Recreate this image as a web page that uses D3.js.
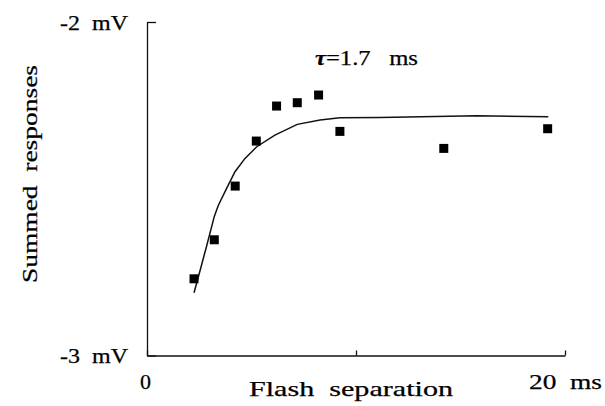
<!DOCTYPE html>
<html>
<head>
<meta charset="utf-8">
<script src="https://cdn.jsdelivr.net/npm/d3@7"></script>
<style>
  body { margin: 0; background: #fff; }
  text { font-family: "Liberation Serif", "Times New Roman", serif; fill: #000; stroke: #000; stroke-width: 0.25px; }
</style>
</head>
<body>
<div id="chart"><svg></svg></div>
<script>
var width = 605;
var height = 406;

// flash separation (ms) and summed response (mV) for the squares
var separation = [2.25, 3.22, 4.22, 5.23, 6.2, 7.19, 8.21, 9.23, 14.2, 19.17];
var summed = [-2.770, -2.653, -2.492, -2.357, -2.252, -2.242, -2.219, -2.328, -2.379, -2.320];

// fitted exponential curve
var fitX = [2.25, 2.54, 2.86, 3.22, 3.41, 3.81, 4.21, 4.69, 5.25, 6.12, 7.19, 8.28, 9.23, 11.15, 15.78, 19.2];
var fitY = [-2.812, -2.745, -2.670, -2.583, -2.550, -2.499, -2.449, -2.409, -2.374, -2.339, -2.307, -2.294, -2.287, -2.286, -2.281, -2.284];

var xTicks = [0, 10, 20];
var xTickLabels = ["0", "", "20\u00a0\u00a0ms"];
var yTicks = [-3, -2];
var yTickLabels = ["-3\u00a0\u00a0mV", "-2\u00a0\u00a0mV"];

var xscale = d3.scaleLinear()
                .domain([0, 20])
                .range([147, 565]);
var yscale = d3.scaleLinear()
                .domain([-3, -2])
                .range([355.5, 22]);

var svg = d3.select("#chart").select("svg")
               .attr("width", width)
               .attr("height", height);

var xaxis = d3.axisBottom(xscale)
                .tickValues(xTicks)
                .tickSizeInner(-5)
                .tickSizeOuter(0)
                .tickPadding(0)
                .tickFormat(function(d, i){ return xTickLabels[i]; });
var yaxis = d3.axisLeft(yscale)
                .tickValues(yTicks)
                .tickSizeInner(-9)
                .tickSizeOuter(0)
                .tickPadding(0)
                .tickFormat(function(d, i){ return yTickLabels[i]; });

var gx = svg.append("g")
     .attr("transform", "translate(0," + yscale(-3) + ")")
     .call(xaxis);
var gy = svg.append("g")
     .attr("transform", "translate(" + xscale(0) + ",0)")
     .call(yaxis);

svg.selectAll(".domain, .tick line")
     .attr("stroke", "#111")
     .attr("stroke-width", 1.3);

gx.selectAll("text")
     .attr("font-size", 22)
     .attr("font-family", null)
     .attr("fill", null)
     .attr("y", 33)
     .attr("dy", 0)
     .attr("x", function(d){ return d === 0 ? -2 : 0; })
     .each(function(d){ if (d === 20) d3.select(this).attr("textLength", 73).attr("lengthAdjust", "spacingAndGlyphs"); });

gy.selectAll("text")
     .attr("font-size", 22)
     .attr("font-family", null)
     .attr("fill", null)
     .attr("x", -19)
     .attr("dy", 7)
     .attr("textLength", 68)
     .attr("lengthAdjust", "spacingAndGlyphs");

// fitted curve
var line = d3.line()
               .x(function(d){ return xscale(d[0]); })
               .y(function(d){ return yscale(d[1]); });
svg.append("path")
     .datum(d3.zip(fitX, fitY))
     .attr("d", line)
     .attr("fill", "none")
     .attr("stroke", "#111")
     .attr("stroke-width", 1.5);

// squares
var side = 9;
svg.selectAll("rect.pt")
     .data(d3.zip(separation, summed))
     .enter().append("rect")
     .attr("class", "pt")
     .attr("width", side)
     .attr("height", side)
     .attr("x", function(d){ return xscale(d[0]) - side / 2; })
     .attr("y", function(d){ return yscale(d[1]) - side / 2; })
     .attr("fill", "#000");

// axis titles
svg.append("text")
     .attr("x", 351)
     .attr("y", 396)
     .attr("text-anchor", "middle")
     .attr("font-size", 21)
     .attr("textLength", 204)
     .attr("lengthAdjust", "spacingAndGlyphs")
     .text("Flash\u00a0\u00a0separation");

svg.append("text")
     .attr("transform", "translate(37,174) rotate(-90)")
     .attr("text-anchor", "middle")
     .attr("font-size", 21)
     .attr("textLength", 218)
     .attr("lengthAdjust", "spacingAndGlyphs")
     .text("Summed\u00a0\u00a0responses");

// time constant
var tau = svg.append("text")
     .attr("x", 315)
     .attr("y", 65)
     .attr("font-size", 22)
     .attr("textLength", 103)
     .attr("lengthAdjust", "spacingAndGlyphs");
tau.append("tspan").attr("font-style", "italic").attr("font-weight", "bold").text("\u03c4");
tau.append("tspan").text("=1.7\u00a0\u00a0\u00a0ms");
</script>
</body>
</html>
